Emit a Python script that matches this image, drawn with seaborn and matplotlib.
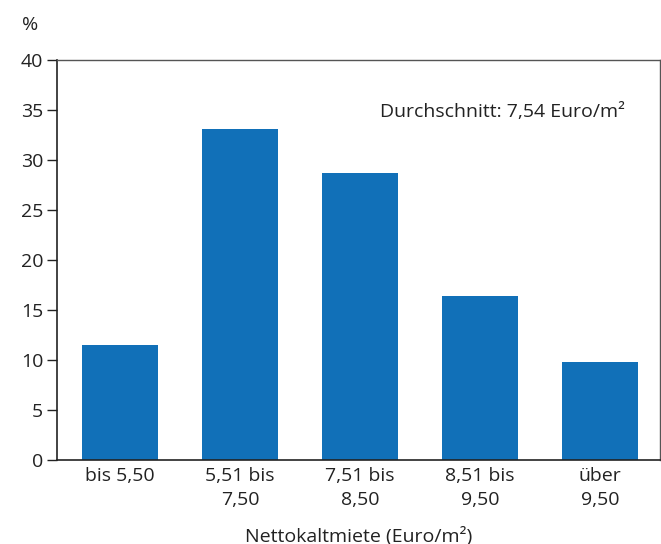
import matplotlib
matplotlib.use("Agg")
import matplotlib.pyplot as plt
import seaborn as sns
import pandas as pd

categories = ["bis 5,50", "5,51 bis\n7,50", "7,51 bis\n8,50", "8,51 bis\n9,50", "über\n9,50"]
shares = [11.5, 33.1, 28.7, 16.4, 9.8]
y_ticks = [0, 5, 10, 15, 20, 25, 30, 35, 40]

sns.set_style("white")
plt.rcParams['font.family'] = ['Open Sans', 'DejaVu Sans']
plt.rcParams['text.color'] = '#222222'
plt.rcParams['axes.labelcolor'] = '#222222'
plt.rcParams['xtick.color'] = '#222222'
plt.rcParams['ytick.color'] = '#222222'

df = pd.DataFrame({"kategorie": categories, "anteil": shares})

fig = plt.figure(figsize=(6.61, 5.44), dpi=100)
ax = fig.add_axes([0.0862, 0.1544, 0.9123, 0.7353])

sns.barplot(data=df, x="kategorie", y="anteil", color="#1170b8",
            saturation=1, width=0.63, linewidth=0, ax=ax)

ax.set_xlim(-0.525, 4.5)
ax.set_ylim(0, 40)
ax.set_yticks(y_ticks)
ax.tick_params(axis='y', direction='out', length=7, width=1, labelsize=14, pad=3, left=True)
ax.tick_params(axis='x', length=0, labelsize=14, pad=5)
ax.set_xlabel("Nettokaltmiete (Euro/m²)", fontsize=14, labelpad=13)
ax.set_ylabel("")

for s in ['left', 'bottom']:
    ax.spines[s].set_color('#222222')
    ax.spines[s].set_linewidth(1.2)
for s in ['top', 'right']:
    ax.spines[s].set_color('#555555')
    ax.spines[s].set_linewidth(1)

for lbl in ax.get_xticklabels():
    lbl.set_linespacing(1.45)
    lbl.set_multialignment('center')

ax.text(-0.045, 1.088, "%", transform=ax.transAxes, ha='center', va='center', fontsize=14)
ax.text(0.536, 0.87, "Durchschnitt: 7,54 Euro/m²", transform=ax.transAxes,
        ha='left', va='center', fontsize=14)

fig.savefig("out.png", dpi=100)
